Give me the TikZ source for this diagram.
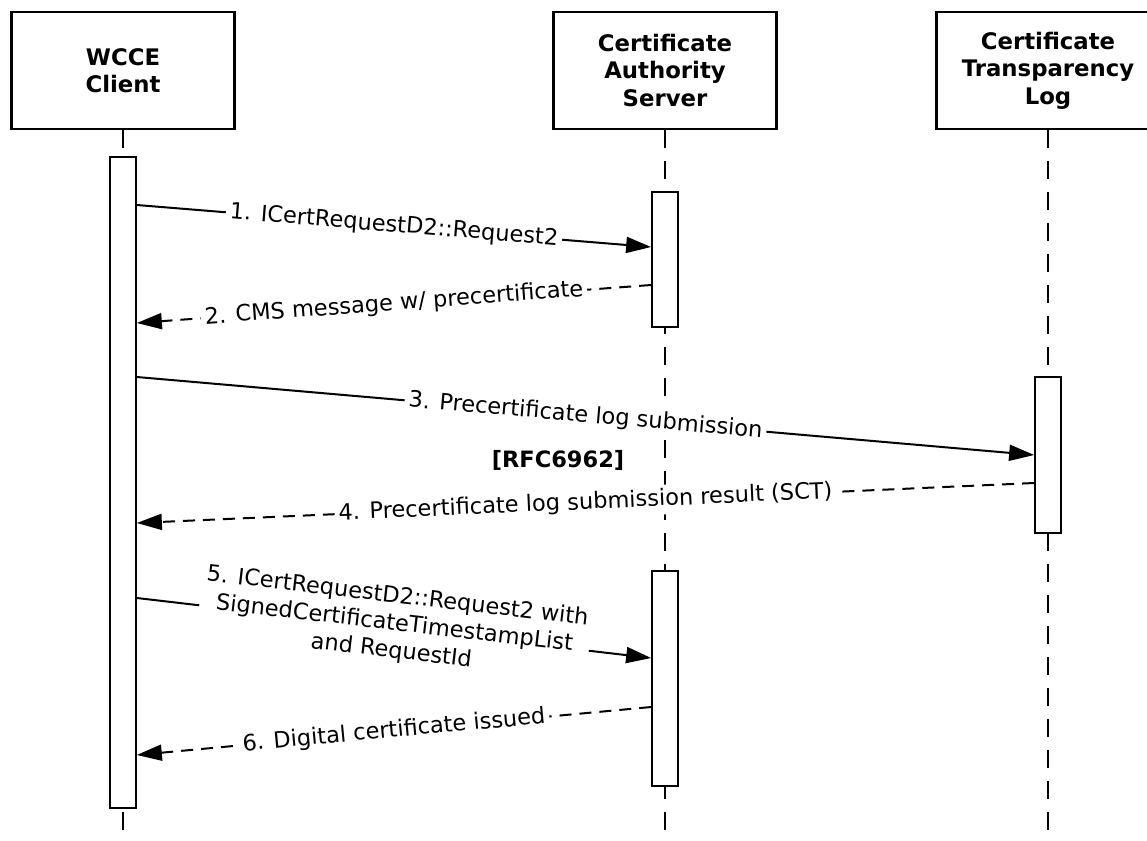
\documentclass[tikz,border=0pt]{standalone}
\usepackage{fontspec}
\setmainfont{DejaVu Sans}
\usetikzlibrary{arrows.meta}

\begin{document}
\begin{tikzpicture}[x=1pt, y=-1pt, font=\fontsize{22.5}{27.5}\selectfont,
    actor/.style={draw, line width=2.2pt, minimum width=223pt, minimum height=117pt, align=center, font=\fontsize{22.8}{27.5}\selectfont\bfseries},
    lifeline/.style={line width=2pt, dash pattern=on 18pt off 13pt},
    activation/.style={draw, fill=white, line width=1.7pt, minimum width=26pt, inner sep=0pt},
    msg/.style={line width=2pt, -{Triangle[length=25pt, width=16pt]}},
    reply/.style={msg, dash pattern=on 12pt off 8pt},
    lbl/.style={midway, sloped, fill=white, inner sep=4pt, align=center}]
    \useasboundingbox (0,0) rectangle (1147,840);

    \node (client) [actor] at (123, 70.5) {WCCE\\Client};
    \node (ca) [actor] at (665, 70.5) {Certificate\\Authority\\Server};
    \node (ctlog) [actor] at (1048, 70.5) {Certificate\\Transparency\\Log};

    \coordinate (clientend) at (123, 845);
    \coordinate (caend) at (665, 845);
    \coordinate (ctlogend) at (1048, 845);
    \draw[lifeline] (client.south) -- (clientend);
    \draw[lifeline] (ca.south) -- (caend);
    \draw[lifeline] (ctlog.south) -- (ctlogend);

    \node (clientact) [activation, minimum height=651pt] at (123, 482.5) {};
    \node (caact) [activation, minimum height=135pt] at (665, 259.5) {};
    \node (caact2) [activation, minimum height=215pt] at (665, 678.5) {};
    \node (ctlogact) [activation, minimum height=156pt] at (1048, 455) {};

    \draw[msg] (clientact.east |- 0,205) -- (caact.west |- 0,247)
        node[lbl] {1. ICertRequestD2::Request2};
    \draw[reply] (caact.west |- 0,285) -- (clientact.east |- 0,323)
        node[lbl] {2. CMS message w/ precertificate};
    \draw[msg] (clientact.east |- 0,377) -- (ctlogact.west |- 0,455)
        node[lbl] {3. Precertificate log submission};
    \node (rfc) at (558, 460) {\bfseries [RFC6962]};
    \draw[reply] (ctlogact.west |- 0,483) -- (clientact.east |- 0,523)
        node[lbl] {4. Precertificate log submission result (SCT)};
    \draw[msg] (clientact.east |- 0,598) -- (caact2.west |- 0,658)
        node[lbl, yshift=4pt] {5. ICertRequestD2::Request2 with\\SignedCertificateTimestampList\\and RequestId};
    \draw[reply] (caact2.west |- 0,707) -- (clientact.east |- 0,755)
        node[lbl] {6. Digital certificate issued};
\end{tikzpicture}
\end{document}
